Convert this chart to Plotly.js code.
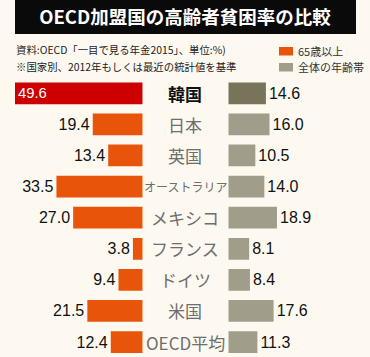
<!DOCTYPE html>
<html>
<head>
<meta charset="utf-8">
<script src="https://cdn.plot.ly/plotly-3.0.1.min.js"></script>
<style>
html,body{margin:0;padding:0;background:#fdf9f1;}
#chart{width:370px;height:357px;}
</style>
</head>
<body>
<div id="chart"></div>
<script>
// ---- data ----
const countries = ["韓国", "日本", "英国", "オーストラリア", "メキシコ", "フランス", "ドイツ", "米国", "OECD平均"];
const elderly = [49.6, 19.4, 13.4, 33.5, 27.0, 3.8, 9.4, 21.5, 12.4];   // 65歳以上
const allAges = [14.6, 16.0, 10.5, 14.0, 18.9, 8.1, 8.4, 17.6, 11.3];   // 全体の年齢帯
const seriesNames = ["65歳以上", "全体の年齢帯"];
const highlight = "韓国";
const titleText = "OECD加盟国の高齢者貧困率の比較";
const noteLines = ["資料:OECD「一目で見る年金2015」、単位:%)", "※国家別、2012年もしくは最近の統計値を基準"];

// ---- styles ----
const W = 370, H = 357;
const BG = "#fdf9f1";
const ORANGE = "#e8540a", RED = "#cc0000";
const GRAY = "#a09e8b", DARKGRAY = "#78745a";
const pxPerUnit = 2.575;
const leftZero = 142.7, rightZero = 228.3;
const numFont = "Liberation Sans, Arial, sans-serif";
const jpFont = "Noto Sans CJK JP, sans-serif";

const isHi = countries.map(c => c === highlight);

const leftTrace = {
  type: "bar", orientation: "h",
  y: countries, x: elderly,
  xaxis: "x", yaxis: "y",
  width: 0.7,
  marker: {color: isHi.map(h => h ? RED : ORANGE), line: {width: 0}},
  text: elderly.map(v => v.toFixed(1)),
  textposition: isHi.map(h => h ? "inside" : "outside"),
  insidetextanchor: "end",
  insidetextfont: {family: numFont, size: 16, color: "#ffffff"},
  outsidetextfont: {family: numFont, size: 16, color: "#111111"},
  cliponaxis: false,
  hoverinfo: "none", showlegend: false
};
const rightTrace = {
  type: "bar", orientation: "h",
  y: countries, x: allAges,
  xaxis: "x2", yaxis: "y",
  width: 0.7,
  marker: {color: isHi.map(h => h ? DARKGRAY : GRAY), line: {width: 0}},
  text: allAges.map(v => v.toFixed(1)),
  textposition: "outside",
  outsidetextfont: {family: numFont, size: 16, color: "#111111"},
  cliponaxis: false,
  hoverinfo: "none", showlegend: false
};

const annotations = [];
countries.forEach((c, i) => {
  annotations.push({
    xref: "paper", yref: "y", x: 185 / W, y: c,
    text: isHi[i] ? "<b>" + c + "</b>" : c,
    showarrow: false, xanchor: "center", yanchor: "middle",
    font: {family: jpFont, size: c === "オーストラリア" ? 12 : 17, color: isHi[i] ? "#111111" : "#6e6e6e"}
  });
});
noteLines.forEach((t, i) => {
  annotations.push({
    xref: "paper", yref: "paper", x: 14 / W, y: 1 - (50 + 16 * i) / H,
    text: t, showarrow: false, xanchor: "left", yanchor: "middle",
    font: {family: jpFont, size: 10.4, color: "#222222"}
  });
});
seriesNames.forEach((t, i) => {
  annotations.push({
    xref: "paper", yref: "paper", x: 296 / W, y: 1 - (51 + 16 * i) / H,
    text: t, showarrow: false, xanchor: "left", yanchor: "middle",
    font: {family: jpFont, size: 11, color: "#333333"}
  });
});

const shapes = [
  {type: "rect", xref: "paper", yref: "paper", x0: 15 / W, x1: 356 / W, y0: 1 - 34 / H, y1: 1,
   fillcolor: "#0a0a0a", line: {width: 0}, layer: "below"},
  {type: "rect", xref: "paper", yref: "paper", x0: 279 / W, x1: 293 / W, y0: 1 - 55.5 / H, y1: 1 - 47 / H,
   fillcolor: ORANGE, line: {width: 0}},
  {type: "rect", xref: "paper", yref: "paper", x0: 279 / W, x1: 293 / W, y0: 1 - 71.5 / H, y1: 1 - 63 / H,
   fillcolor: GRAY, line: {width: 0}}
];

const layout = {
  width: W, height: H,
  margin: {l: 0, r: 0, t: 0, b: 0, pad: 0},
  paper_bgcolor: BG, plot_bgcolor: BG,
  barmode: "overlay",
  showlegend: false,
  title: {
    text: "<b>" + titleText + "</b>",
    x: 0.5, xanchor: "center", y: 1 - 17.5 / H, yanchor: "middle",
    font: {family: jpFont, size: 18.5, color: "#ffffff"}
  },
  xaxis: {domain: [0, leftZero / W], range: [leftZero / pxPerUnit, 0], visible: false, fixedrange: true},
  xaxis2: {domain: [rightZero / W, 1], range: [0, (W - rightZero) / pxPerUnit], visible: false, fixedrange: true},
  yaxis: {type: "category", categoryorder: "array", categoryarray: countries,
          range: [8.48, -3.0], visible: false, fixedrange: true},
  annotations: annotations,
  shapes: shapes
};

Plotly.newPlot("chart", [leftTrace, rightTrace], layout, {displayModeBar: false, staticPlot: true});
</script>
</body>
</html>
